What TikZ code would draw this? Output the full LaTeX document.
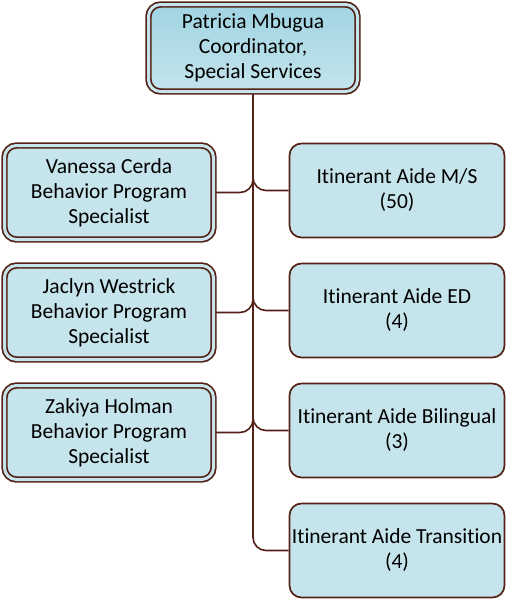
\documentclass[tikz,border=0pt]{standalone}
\usepackage{fontspec}
\setmainfont{Carlito}[Ligatures = NoCommon]
\usetikzlibrary{backgrounds}

\definecolor{chartbrown}{RGB}{84,34,24}
\definecolor{chartblue}{RGB}{198,228,236}
\definecolor{chartblueTop}{RGB}{160,212,226}
\definecolor{chartblueLow}{RGB}{196,228,236}

\begin{document}
\begin{tikzpicture}[x = 1pt, y = -1pt]

	% Definitions

	\def\rowgap{120}		% vertical distance between rows of boxes
	\def\trunk{253}		% x position of the vertical trunk line

	\tikzset{
		box/.style = {draw = chartbrown, line width = 1.7pt, fill = chartblue,
			rounded corners = 12pt, align = center, font = \fontsize{21.5}{25}\selectfont,
			inner sep = 0pt, text = black},
		aidebox/.style = {box, minimum width = 215pt, minimum height = 94pt},
		dblbox/.style = {box, fill = chartblue, double = chartblue, double distance = 3pt,
			minimum width = 209pt, minimum height = 94pt},
		link/.style = {draw = chartbrown, line width = 1.6pt, rounded corners = 13pt}
	}

	\useasboundingbox (0, 0) rectangle (508, 605);


	% Head of department

	\node [dblbox, minimum height = 87pt, top color = chartblueTop, bottom color = chartblueLow]
		(boss) at (\trunk, 48) {Patricia Mbugua\\Coordinator,\\Special Services};


	% Behavior program specialists (left column)

	\node [dblbox] (bps1) at (109, 192.5) {Vanessa Cerda\\Behavior Program\\Specialist};
	\node [dblbox] (bps2) at (109, 192.5 + \rowgap) {Jaclyn Westrick\\Behavior Program\\Specialist};
	\node [dblbox] (bps3) at (109, 192.5 + 2 * \rowgap) {Zakiya Holman\\Behavior Program\\Specialist};


	% Itinerant aides (right column)

	\node [aidebox] (aide1) at (397, 190.5) {Itinerant Aide M/S\\(50)};
	\node [aidebox] (aide2) at (397, 190.5 + \rowgap) {Itinerant Aide ED\\(4)};
	\node [aidebox] (aide3) at (397, 190.5 + 2 * \rowgap) {Itinerant Aide Bilingual\\(3)};
	\node [aidebox] (aide4) at (397, 190.5 + 3 * \rowgap) {Itinerant Aide Transition\\(4)};


	% Connectors, drawn behind the boxes

	\begin{scope}[on background layer]
		\foreach \n in {1, 2, 3}
			\draw [link] (boss.south) |- (bps\n.east);
		\foreach \n in {1, 2, 3, 4}
			\draw [link] (boss.south) |- (aide\n.west);
	\end{scope}

\end{tikzpicture}
\end{document}
